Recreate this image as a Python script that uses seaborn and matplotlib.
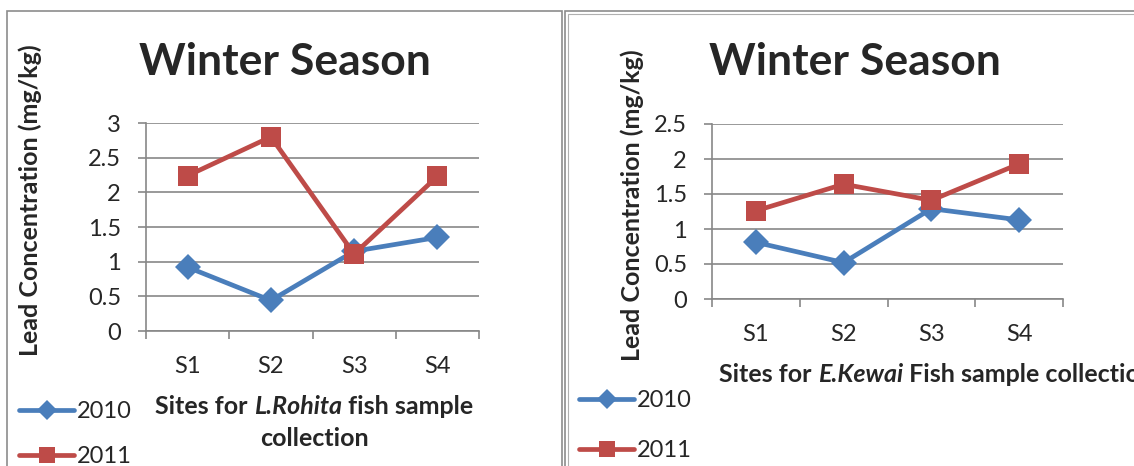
import matplotlib
matplotlib.use("Agg")
import matplotlib.pyplot as plt
import seaborn as sns
import pandas as pd
from matplotlib.patches import Rectangle

# ---------------- data ----------------
sites = ["S1", "S2", "S3", "S4"]
years = ["2010", "2011"]
rohita_2010 = [0.92, 0.44, 1.15, 1.35]
rohita_2011 = [2.24, 2.80, 1.11, 2.23]
kewai_2010 = [0.81, 0.52, 1.29, 1.13]
kewai_2011 = [1.26, 1.64, 1.41, 1.93]
left_yticks = [0, 0.5, 1, 1.5, 2, 2.5, 3]
left_yticklabels = ["0", "0.5", "1", "1.5", "2", "2.5", "3"]
right_yticks = [0, 0.5, 1, 1.5, 2, 2.5]
right_yticklabels = ["0", "0.5", "1", "1.5", "2", "2.5"]
title_text = "Winter Season"
ylabel_text = "Lead Concentration (mg/kg)"
left_xlabel_line1 = [("Sites for ", "normal"), ("L.Rohita", "italic"), (" fish sample", "normal")]
left_xlabel_line2 = [("collection", "normal")]
right_xlabel = [("Sites for ", "normal"), ("E.Kewai", "italic"), (" Fish sample collection", "normal")]

sns.set_style("white")
plt.rcParams["font.family"] = ["Lato", "DejaVu Sans"]

W, H = 1134, 466
fig = plt.figure(figsize=(W / 100, H / 100), dpi=100)

BLUE = "#4A7EBB"
RED = "#BE4B48"
GRID = "#878787"
TICK_FS = 17


def px_axes(x0, y0, x1, y1):
    return fig.add_axes([x0 / W, 1 - y1 / H, (x1 - x0) / W, (y1 - y0) / H])


def fx(x):
    return x / W


def fy(y):
    return 1 - y / H


# panel borders
fig.patches.append(Rectangle((fx(7), fy(470)), fx(562) - fx(7), fy(11) - fy(470),
                             transform=fig.transFigure, fill=False, edgecolor="#8c8c8c", linewidth=1.2))
fig.patches.append(Rectangle((fx(565), fy(470)), fx(1140) - fx(565), fy(11) - fy(470),
                             transform=fig.transFigure, fill=False, edgecolor="#8c8c8c", linewidth=1.2))
fig.patches.append(Rectangle((fx(567.5), fy(470)), fx(1140) - fx(567.5), fy(13.5) - fy(470),
                             transform=fig.transFigure, fill=False, edgecolor="#b0b0b0", linewidth=0.8))


def make_panel(box, v2010, v2011, ymax, yticks, yticklabels):
    ax = px_axes(*box)
    df = pd.DataFrame({
        "site": sites * 2,
        "year": [years[0]] * len(sites) + [years[1]] * len(sites),
        "value": list(v2010) + list(v2011),
    })
    sns.lineplot(data=df, x="site", y="value", hue="year", style="year",
                 markers={"2010": "D", "2011": "s"}, dashes=False,
                 palette={"2010": BLUE, "2011": RED}, linewidth=3.4,
                 markersize=13, markeredgewidth=0, errorbar=None, sort=False, ax=ax)
    # square markers a bit larger, as in the reference
    for ln in ax.lines:
        if ln.get_marker() == "s":
            ln.set_markersize(14.5)
    ax.set_xlim(-0.5, len(sites) - 0.5)
    ax.set_ylim(0, ymax)
    ax.set_yticks(yticks)
    ax.set_yticklabels(yticklabels)
    ax.set_xticks(range(len(sites)))
    ax.set_xticklabels(sites)
    ax.set_xticks([i - 0.5 for i in range(len(sites) + 1)], minor=True)
    ax.set_xlabel("")
    ax.set_ylabel("")
    ax.yaxis.grid(True, color=GRID, linewidth=1.2)
    ax.set_axisbelow(True)
    for s in ["top", "right"]:
        ax.spines[s].set_visible(False)
    for s in ["left", "bottom"]:
        ax.spines[s].set_color(GRID)
        ax.spines[s].set_linewidth(1.2)
    ax.tick_params(axis="y", length=6, width=1.2, color=GRID, pad=12, labelsize=TICK_FS, left=True)
    ax.tick_params(axis="x", which="major", length=0, pad=18, labelsize=TICK_FS)
    ax.tick_params(axis="x", which="minor", length=6, width=1.2, color=GRID, bottom=True)
    handles, labels = ax.get_legend_handles_labels()
    if ax.get_legend() is not None:
        ax.get_legend().remove()
    pairs = [(h, l) for h, l in zip(handles, labels) if l in years]
    return ax, pairs


axL, pairsL = make_panel((146, 123, 479, 331), rohita_2010, rohita_2011, 3, left_yticks, left_yticklabels)
axR, pairsR = make_panel((712, 124, 1063, 299), kewai_2010, kewai_2011, 2.5, right_yticks, right_yticklabels)


def add_legend(ax, pairs, x, y, spacing):
    hs = [h for h, _ in pairs]
    ls = [l for _, l in pairs]
    leg = ax.legend(hs, ls, loc="upper left", bbox_to_anchor=(fx(x), fy(y)),
                    bbox_transform=fig.transFigure, frameon=False, fontsize=TICK_FS,
                    handlelength=2.35, handletextpad=0.1, labelspacing=spacing,
                    borderpad=0, borderaxespad=0, markerscale=0.75)
    return leg


add_legend(axL, pairsL, 19, 401, 1.02)
add_legend(axR, pairsR, 579, 390, 1.24)

# titles
fig.text(fx(285), fy(62), title_text, ha="center", va="center", fontsize=32, fontweight="bold")
fig.text(fx(855), fy(62), title_text, ha="center", va="center", fontsize=32, fontweight="bold")

# y labels
fig.text(fx(30), fy(200), ylabel_text, ha="center", va="center", rotation=90, fontsize=18, fontweight="bold")
fig.text(fx(632), fy(205), ylabel_text, ha="center", va="center", rotation=90, fontsize=18, fontweight="bold")

renderer = fig.canvas.get_renderer()


def rich_text(pieces, x, y, align="center", size=18):
    objs = []
    widths = []
    for txt, style in pieces:
        t = fig.text(0, fy(y), txt, ha="left", va="center", fontsize=size, fontweight="bold", fontstyle=style)
        bb = t.get_window_extent(renderer=renderer)
        objs.append(t)
        widths.append(bb.width)
    total = sum(widths)
    start = x - total / 2 if align == "center" else x
    cur = start
    for t, w in zip(objs, widths):
        t.set_x(cur / W)
        cur += w


rich_text(left_xlabel_line1, 314, 407)
rich_text(left_xlabel_line2, 314, 438)
rich_text(right_xlabel, 719, 375, align="left")

fig.savefig("out.png", dpi=100)
